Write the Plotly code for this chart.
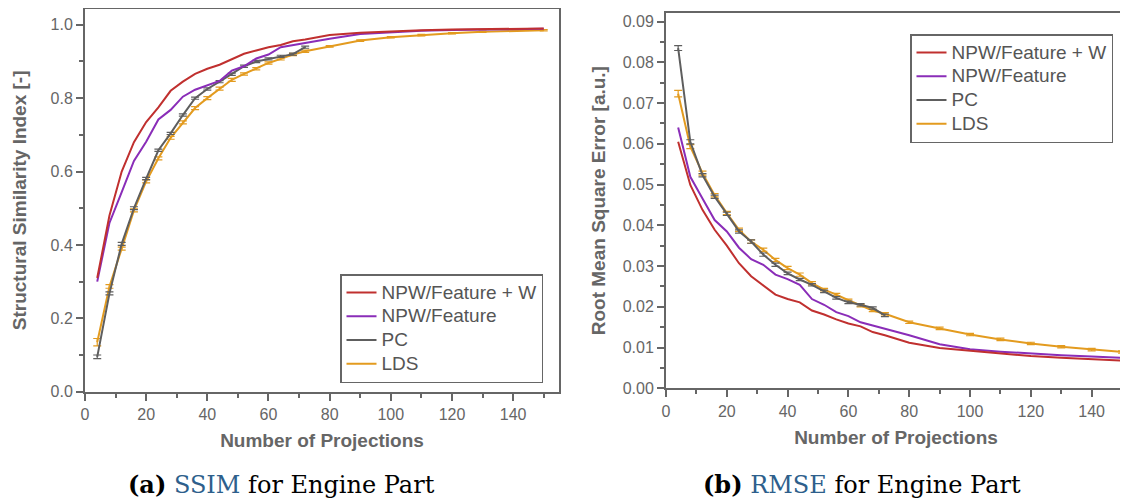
import plotly.graph_objects as go

# number of projections
proj = [4, 8, 12, 16, 20, 24, 28, 32, 36, 40, 44, 48, 52, 56, 60, 64, 68, 72,
        80, 90, 100, 110, 120, 130, 140, 150]
proj_pc = proj[:18]

# SSIM
ssim_npw_w = [0.31, 0.48, 0.60, 0.68, 0.735, 0.775, 0.82, 0.845, 0.866, 0.880, 0.891, 0.905, 0.921,
              0.930, 0.939, 0.945, 0.955, 0.960, 0.972, 0.978, 0.982, 0.985, 0.987, 0.988, 0.989, 0.990]
ssim_npw = [0.30, 0.46, 0.544, 0.629, 0.681, 0.742, 0.768, 0.804, 0.823, 0.834, 0.847, 0.875, 0.887,
            0.908, 0.919, 0.939, 0.945, 0.950, 0.962, 0.975, 0.980, 0.984, 0.986, 0.987, 0.988, 0.989]
ssim_pc = [0.095, 0.268, 0.403, 0.50, 0.581, 0.658, 0.704, 0.754, 0.80, 0.825, 0.845, 0.865, 0.887,
           0.90, 0.907, 0.914, 0.92, 0.939]
ssim_pc_err = [0.005, 0.004, 0.004, 0.004, 0.003, 0.003, 0.003, 0.003, 0.003, 0.003, 0.003, 0.003,
               0.003, 0.003, 0.003, 0.003, 0.003, 0.003]
ssim_lds = [0.135, 0.287, 0.39, 0.494, 0.573, 0.636, 0.692, 0.734, 0.773, 0.80, 0.826, 0.85, 0.866,
            0.88, 0.896, 0.907, 0.919, 0.928, 0.941, 0.957, 0.966, 0.972, 0.977, 0.981, 0.984, 0.985]
ssim_lds_err = [0.01, 0.005, 0.004, 0.004, 0.004, 0.004, 0.004, 0.004, 0.004, 0.004, 0.004, 0.004,
                0.003, 0.003, 0.003, 0.003, 0.003, 0.003, 0.002, 0.002, 0.002, 0.002, 0.002, 0.002,
                0.002, 0.002]

# RMSE
rmse_npw_w = [0.0605, 0.0499, 0.0438, 0.0389, 0.035, 0.0307, 0.0275, 0.0252, 0.023, 0.0219, 0.0211,
              0.0191, 0.0181, 0.0169, 0.0159, 0.0152, 0.0138, 0.013, 0.0112, 0.0099, 0.0092, 0.0085,
              0.0079, 0.0075, 0.0072, 0.0068]
rmse_npw = [0.064, 0.0519, 0.0466, 0.0413, 0.0385, 0.0345, 0.0317, 0.0303, 0.0279, 0.0268, 0.0254,
            0.0219, 0.0205, 0.0187, 0.0177, 0.0162, 0.0154, 0.0146, 0.013, 0.0108, 0.0096, 0.009,
            0.0085, 0.0081, 0.0078, 0.0075]
rmse_pc = [0.0835, 0.0605, 0.0523, 0.047, 0.0428, 0.0385, 0.036, 0.0328, 0.0303, 0.0282, 0.0267,
           0.0254, 0.0238, 0.0222, 0.0211, 0.0205, 0.0197, 0.0179]
rmse_pc_err = [0.0006, 0.0005, 0.0004, 0.0004, 0.0004, 0.0004, 0.0004, 0.0004, 0.0004, 0.0003,
               0.0003, 0.0003, 0.0003, 0.0003, 0.0003, 0.0003, 0.0003, 0.0003]
rmse_lds = [0.0723, 0.0593, 0.0528, 0.0474, 0.043, 0.0389, 0.036, 0.034, 0.0315, 0.0295, 0.0279,
            0.0258, 0.0242, 0.023, 0.0216, 0.0203, 0.0191, 0.0183, 0.0162, 0.0147, 0.0132, 0.012,
            0.011, 0.0102, 0.0095, 0.0089]
rmse_lds_err = [0.0008, 0.0005, 0.0005, 0.0004, 0.0004, 0.0004, 0.0004, 0.0004, 0.0004, 0.0004,
                0.0004, 0.0004, 0.0003, 0.0003, 0.0003, 0.0003, 0.0003, 0.0003, 0.0003, 0.0003,
                0.0003, 0.0003, 0.0003, 0.0003, 0.0003, 0.0003]

names = ['NPW/Feature + W', 'NPW/Feature', 'PC', 'LDS']
colors = ['#c0302f', '#8a2db8', '#5e5e5e', '#e39b1f']

W, H = 1128, 499
OFF = 8  # the page body adds an 8px margin, so shift everything back by that much
AX = '#666666'
SANS = 'Liberation Sans, Arial, sans-serif'


def px(x):
    return (x - OFF) / W


def py(y):
    return 1 - (y - OFF) / H


fig = go.Figure()


def add_set(xa, ya, legend, d_w, d_f, d_pc, e_pc, d_lds, e_lds):
    series = [(proj, d_w, None), (proj, d_f, None), (proj_pc, d_pc, e_pc), (proj, d_lds, e_lds)]
    # LDS drawn first so the other curves sit on top of it
    for k in [3, 2, 1, 0]:
        xs, ys, err = series[k]
        tr = go.Scatter(
            x=xs, y=ys, mode='lines', xaxis=xa, yaxis=ya, legend=legend,
            # bigger text inside a smaller legend font keeps the rows tight
            name='<span style="font-size:19px">%s</span>' % names[k],
            line=dict(color=colors[k], width=2), legendrank=k,
        )
        if err is not None:
            tr.error_y = dict(type='data', array=err, color=colors[k], thickness=1.2, width=4)
        fig.add_trace(tr)


add_set('x', 'y', 'legend', ssim_npw_w, ssim_npw, ssim_pc, ssim_pc_err, ssim_lds, ssim_lds_err)
add_set('x2', 'y2', 'legend2', rmse_npw_w, rmse_npw, rmse_pc, rmse_pc_err, rmse_lds, rmse_lds_err)

axis_style = dict(
    showline=True, linecolor=AX, linewidth=2, mirror=True, showgrid=False, zeroline=False,
    ticks='outside', ticklen=7, tickwidth=1.5, tickcolor=AX, automargin=False,
    tickfont=dict(family=SANS, size=16, color=AX),
)
title_font = dict(family=SANS, size=19, color=AX, weight='bold')

legend_style = dict(
    xanchor='left', yanchor='top', bordercolor=AX, borderwidth=1.5, bgcolor='white',
    font=dict(family=SANS, size=16, color='#555555'), tracegroupgap=0, traceorder='normal',
)

fig.update_layout(
    width=W, height=H, margin=dict(l=0, r=0, t=0, b=0, autoexpand=False),
    paper_bgcolor='white', plot_bgcolor='white',
    xaxis=dict(axis_style, domain=[px(85), px(559)], range=[0, 155], dtick=20,
               minor=dict(dtick=10, ticks='outside', ticklen=4, tickcolor=AX),
               title=dict(text='Number of Projections', font=title_font, standoff=12), anchor='y'),
    yaxis=dict(axis_style, domain=[py(391.7), py(9)], range=[0, 1.043], dtick=0.2,
               tickformat='.1f',
               minor=dict(dtick=0.1, ticks='outside', ticklen=4, tickcolor=AX),
               title=dict(text='Structural Similarity Index [-]', font=title_font, standoff=19),
               anchor='x'),
    xaxis2=dict(axis_style, domain=[px(666), px(1126)], range=[0, 151.3], dtick=20,
                minor=dict(dtick=10, ticks='outside', ticklen=4, tickcolor=AX),
                title=dict(text='Number of Projections', font=title_font, standoff=12), anchor='y2'),
    yaxis2=dict(axis_style, domain=[py(388.3), py(13)], range=[0, 0.0921], dtick=0.01,
                tickformat='.2f',
                minor=dict(dtick=0.005, ticks='outside', ticklen=4, tickcolor=AX),
                title=dict(text='Root Mean Square Error [a.u.]', font=title_font, standoff=12),
                anchor='x2'),
    legend=dict(legend_style, x=px(340), y=py(274)),
    legend2=dict(legend_style, x=px(910), y=py(34)),
)

SERIF = 'DejaVu Serif, serif'
caps = [
    (281, '<b>(a)</b> <span style="color:#2e5f8c">SSIM</span> for Engine Part'),
    (862, '<b>(b)</b> <span style="color:#2e5f8c">RMSE</span> for Engine Part'),
]
for cx, txt in caps:
    fig.add_annotation(text=txt, xref='paper', yref='paper', x=px(cx), y=py(484),
                       xanchor='center', yanchor='middle', showarrow=False,
                       font=dict(family=SERIF, size=24, color='black'))

fig.write_html('out.html')
